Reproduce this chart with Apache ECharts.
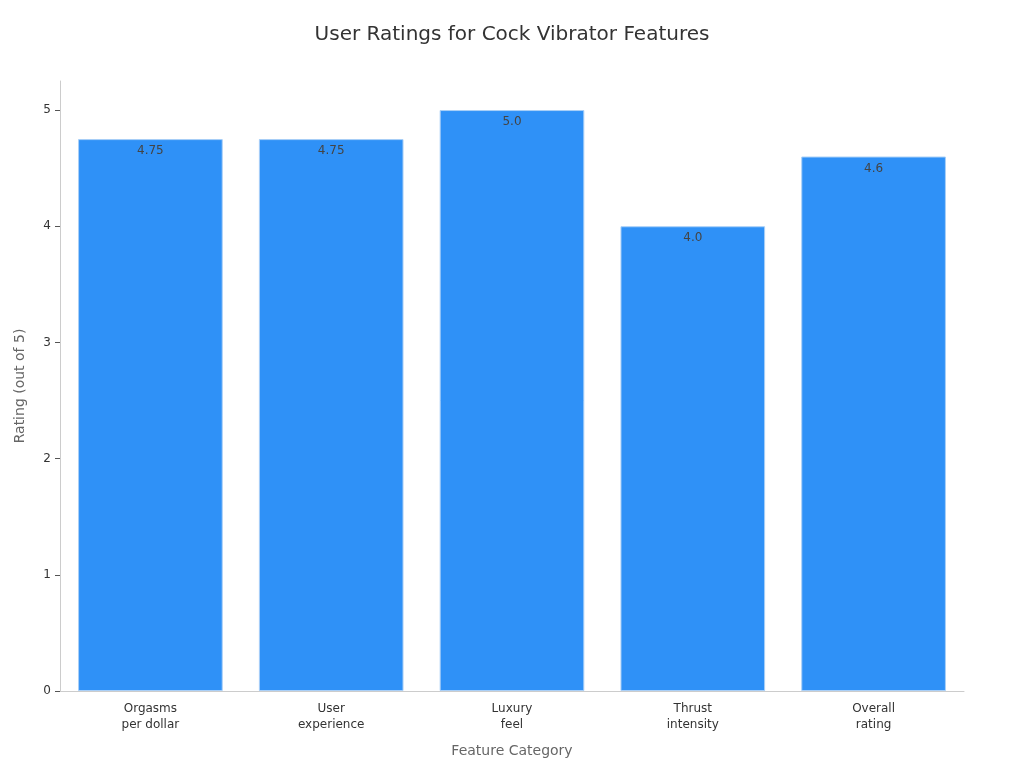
<!DOCTYPE html>
<html>
<head>
<meta charset="utf-8">
<script src="https://cdn.jsdelivr.net/npm/echarts@6/dist/echarts.min.js"></script>
<style>html,body{margin:0;padding:0;background:#fff}#c{width:1024px;height:768px}</style>
</head>
<body>
<div id="c"></div>
<script>
const categories = ['Orgasms\nper dollar', 'User\nexperience', 'Luxury\nfeel', 'Thrust\nintensity', 'Overall\nrating'];
const ratings = [4.75, 4.75, 5.0, 4.0, 4.6];
const yTicks = [0, 1, 2, 3, 4, 5];

const chart = echarts.init(document.getElementById('c'));
chart.setOption({
  backgroundColor: '#ffffff',
  textStyle: { fontFamily: 'DejaVu Sans' },
  title: {
    text: 'User Ratings for Cock Vibrator Features',
    left: 'center', top: 20,
    textStyle: { fontFamily: 'DejaVu Sans', fontSize: 20, fontWeight: 'normal', color: '#333333' }
  },
  grid: { left: 60, right: 60, top: 81, bottom: 77, containLabel: false },
  xAxis: {
    type: 'category',
    data: categories,
    name: 'Feature Category',
    nameLocation: 'middle',
    nameGap: 53,
    nameTextStyle: { fontFamily: 'DejaVu Sans', fontSize: 14, color: '#666666' },
    axisLine: { lineStyle: { color: '#cccccc' } },
    axisTick: { alignWithLabel: true, length: 5, lineStyle: { color: '#555555' } },
    axisLabel: { fontFamily: 'DejaVu Sans', fontSize: 12, color: '#333333', margin: 10, lineHeight: 16 }
  },
  yAxis: {
    type: 'value',
    min: 0, max: 5.25, interval: 1,
    name: 'Rating (out of 5)',
    nameLocation: 'middle',
    nameGap: 33,
    nameTextStyle: { fontFamily: 'DejaVu Sans', fontSize: 14, color: '#666666' },
    axisLine: { show: true, lineStyle: { color: '#cccccc' } },
    axisTick: { show: true, length: 5, customValues: yTicks, lineStyle: { color: '#555555' } },
    axisLabel: { fontFamily: 'DejaVu Sans', fontSize: 12, color: '#333333', margin: 9, customValues: yTicks },
    splitLine: { show: false }
  },
  series: [{
    type: 'bar',
    data: ratings,
    barCategoryGap: '20%',
    itemStyle: { color: '#2f91f7', borderColor: '#a9cff7', borderWidth: 1 },
    label: {
      show: true, position: 'insideTop', distance: 6,
      fontFamily: 'DejaVu Sans', fontSize: 12, color: '#444444',
      formatter: p => Number.isInteger(p.value) ? p.value.toFixed(1) : String(p.value)
    }
  }]
});
</script>
</body>
</html>
